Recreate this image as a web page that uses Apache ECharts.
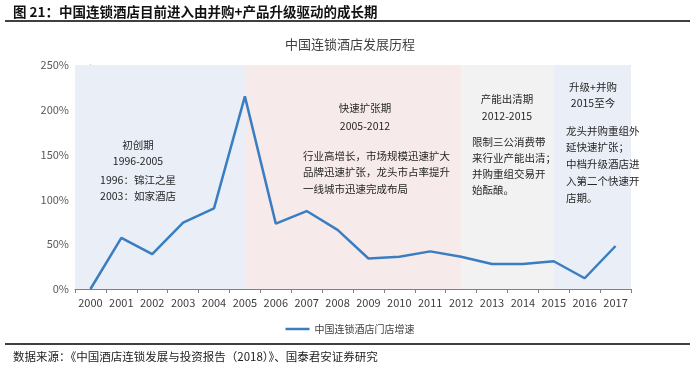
<!DOCTYPE html>
<html>
<head>
<meta charset="utf-8">
<script src="https://cdn.jsdelivr.net/npm/echarts@6/dist/echarts.min.js"></script>
<style>
html,body{margin:0;padding:0;background:#fff;}
#c{width:700px;height:365px;}
</style>
</head>
<body>
<div id="c"></div>
<script>
// ---- data ----
const years = ['2000','2001','2002','2003','2004','2005','2006','2007','2008','2009','2010','2011','2012','2013','2014','2015','2016','2017'];
const growth = [0, 57, 39, 74, 90, 215, 73, 87, 66, 34, 36, 42, 36, 28, 28, 31, 12, 48];
const yTicks = [0, 50, 100, 150, 200, 250];
const seriesName = '中国连锁酒店门店增速';
const figTitle = '图 21：中国连锁酒店目前进入由并购+产品升级驱动的成长期';
const chartTitle = '中国连锁酒店发展历程';
const sourceText = '数据来源：《中国酒店连锁发展与投资报告（2018）》、国泰君安证券研究';
const periodBounds = ['start', '2005', '2012', '2015', 'end'];
const periodTitles = [['初创期', '1996-2005'], ['快速扩张期', '2005-2012'], ['产能出清期', '2012-2015'], ['升级+并购', '2015至今']];
const periodNotes = [
  ['1996：锦江之星', '2003：如家酒店'],
  ['行业高增长，市场规模迅速扩大', '品牌迅速扩张，龙头市占率提升', '一线城市迅速完成布局'],
  ['限制三公消费带', '来行业产能出清；', '并购重组交易开', '始酝酿。'],
  ['龙头并购重组外', '延快速扩张；', '中档升级酒店进', '入第二个快速开', '店期。']
];

// ---- styles / layout ----
const FONT = '"Noto Sans CJK SC", "Noto Sans", sans-serif';
const areaColors = ['#e9eef7', '#f7eaea', '#f2f2f3', '#e9eef7'];
const titleLayout = [
  {x: 138, ys: [145, 161]},
  {x: 365, ys: [108, 126]},
  {x: 507, ys: [99, 116]},
  {x: 593, ys: [87, 103]}
];
const noteLayout = [
  {x: 138, align: 'center', ys: [180, 196]},
  {x: 303, align: 'left', ys: [156, 172, 189]},
  {x: 472, align: 'left', ys: [142, 158, 174, 190]},
  {x: 566, align: 'left', ys: [131, 147, 164, 181, 198]}
];

const minX = -0.5, maxX = years.length - 0.5;
function boundPos(b) {
  if (b === 'start') return minX;
  if (b === 'end') return maxX;
  return years.indexOf(b);
}
const areas = [];
for (let i = 0; i < periodBounds.length - 1; i++) {
  areas.push([
    {xAxis: boundPos(periodBounds[i]), itemStyle: {color: areaColors[i]}},
    {xAxis: boundPos(periodBounds[i + 1])}
  ]);
}
const lineData = growth.map((v, i) => [i, v]);

const graphics = [];
graphics.push({type: 'text', x: 13, y: 12, style: {text: figTitle, font: 'bold 13.5px ' + FONT, fill: '#111', verticalAlign: 'middle'}});
graphics.push({type: 'rect', shape: {x: 5, y: 20, width: 685, height: 2}, style: {fill: '#404040'}});
graphics.push({type: 'rect', shape: {x: 5, y: 343, width: 685, height: 2}, style: {fill: '#404040'}});
graphics.push({type: 'text', x: 13, y: 357, style: {text: sourceText, font: '11.5px ' + FONT, fill: '#222', verticalAlign: 'middle'}});
periodTitles.forEach((lines, i) => {
  lines.forEach((t, j) => {
    graphics.push({type: 'text', x: titleLayout[i].x, y: titleLayout[i].ys[j], z: 10,
      style: {text: t, font: '10.5px ' + FONT, fill: '#262626', align: 'center', verticalAlign: 'middle'}});
  });
});
periodNotes.forEach((lines, i) => {
  lines.forEach((t, j) => {
    graphics.push({type: 'text', x: noteLayout[i].x, y: noteLayout[i].ys[j], z: 10,
      style: {text: t, font: '10.5px ' + FONT, fill: '#262626', align: noteLayout[i].align, verticalAlign: 'middle'}});
  });
});

const chart = echarts.init(document.getElementById('c'), null, {renderer: 'canvas'});
chart.setOption({
  animation: false,
  backgroundColor: '#fff',
  textStyle: {fontFamily: FONT},
  title: {text: chartTitle, left: 'center', top: 33, textStyle: {fontSize: 13, fontWeight: 'normal', color: '#404040', fontFamily: FONT}},
  grid: {left: 75, right: 69, top: 65, bottom: 76},
  legend: {
    top: 319, left: 'center', itemWidth: 24, itemHeight: 2.5, itemGap: 4, icon: 'rect',
    textStyle: {fontSize: 10, color: '#404040', fontFamily: FONT},
    data: [seriesName]
  },
  xAxis: [
    {
      type: 'category', data: years, boundaryGap: true,
      axisLine: {show: true, lineStyle: {color: '#808080', width: 1}},
      axisTick: {show: true, length: 4, lineStyle: {color: '#808080'}},
      axisLabel: {fontSize: 11, color: '#404040', margin: 8, interval: 0},
      splitLine: {show: false}
    },
    {type: 'value', min: minX, max: maxX, show: false, splitLine: {show: false}}
  ],
  yAxis: {
    type: 'value', min: yTicks[0], max: yTicks[yTicks.length - 1], interval: yTicks[1] - yTicks[0],
    axisLine: {show: true, lineStyle: {color: '#808080'}},
    axisTick: {show: true, length: 4, lineStyle: {color: '#808080'}},
    axisLabel: {formatter: '{value}%', fontSize: 11, color: '#595959', margin: 6},
    splitLine: {show: false}
  },
  graphic: graphics,
  series: [
    {
      name: seriesName, type: 'line', xAxisIndex: 1, data: lineData, z: 5,
      symbol: 'none', lineStyle: {color: '#3a7dc1', width: 2.5}, itemStyle: {color: '#3a7dc1'},
      markArea: {silent: true, label: {show: false}, data: areas}
    }
  ]
});
</script>
</body>
</html>
